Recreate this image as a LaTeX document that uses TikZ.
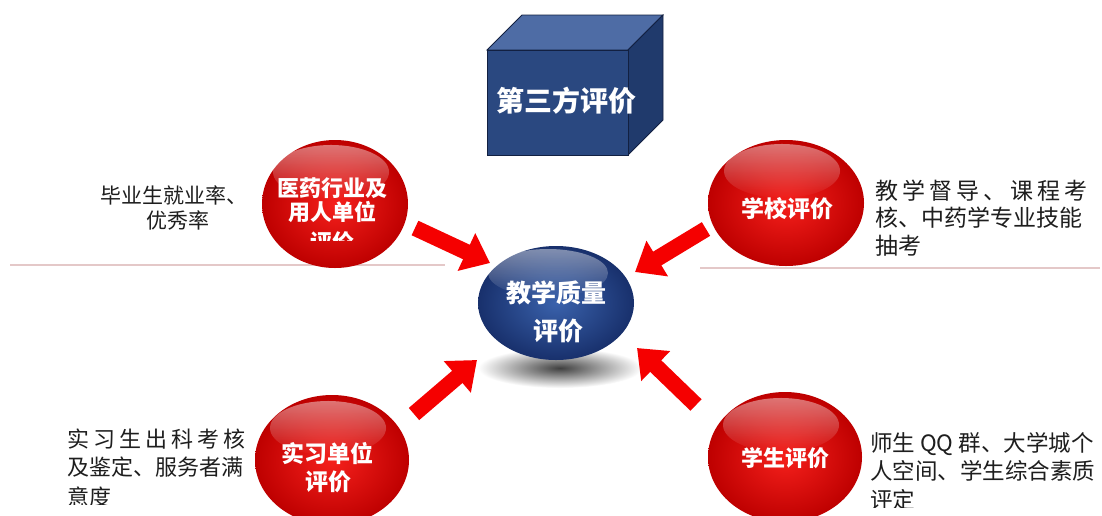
\documentclass[tikz,border=0pt]{standalone}
\usepackage{fontspec}
\setmainfont{Noto Sans CJK SC}
\usetikzlibrary{arrows.meta,shapes.geometric,fadings,calc}
\definecolor{ballred}{RGB}{245,32,28}
\definecolor{balldark}{RGB}{190,0,0}
\definecolor{ballblue}{RGB}{58,98,172}
\definecolor{blueedge}{RGB}{24,48,108}
\definecolor{arrowred}{RGB}{245,0,0}
\definecolor{rulecol}{RGB}{228,200,200}
\definecolor{cubefront}{RGB}{42,72,128}
\definecolor{cubetop}{RGB}{78,108,165}
\definecolor{cubeside}{RGB}{32,58,108}
\definecolor{cubeedge}{RGB}{18,32,65}
\definecolor{sidetxt}{RGB}{30,30,30}
\begin{document}
\begin{tikzpicture}[x=1pt,y=-1pt,
  redball/.style={ellipse, inner sep=0pt, minimum width=150pt, minimum height=130pt,
    shading=radial, inner color=ballred, outer color=balldark},
  blueball/.style={ellipse, inner sep=0pt, minimum width=156pt, minimum height=114pt,
    shading=radial, inner color=ballblue, outer color=blueedge},
  gloss/.style={white, fill opacity=0.45, path fading=south},
  bigarrow/.style={draw=arrowred, line width=16pt, -{Triangle[width=40pt,length=26pt]}},
  balltxt/.style={text=white, font=\bfseries\fontsize{22}{26}\selectfont, inner sep=0pt, anchor=base},
  sidetext/.style={text=sidetxt, font=\fontsize{22}{27}\selectfont, inner sep=0pt, anchor=base west},
  rule/.style={draw=rulecol, line width=2pt}
]
\useasboundingbox (0,0) rectangle (1102,515);
\clip (0,0) rectangle (1102,515);
\fill[white] (0,0) rectangle (1102,515);

% horizontal rules
\coordinate (rl1) at (10,265);
\coordinate (rl2) at (445,265);
\coordinate (rr1) at (700,268);
\coordinate (rr2) at (1100,268);
\draw[rule] (rl1) -- (rl2);
\draw[rule] (rr1) -- (rr2);

% cube
\filldraw[fill=cubetop, draw=cubeedge, line width=0.8pt] (487,50) -- (522,15) -- (663,15) -- (628,50) -- cycle;
\filldraw[fill=cubeside, draw=cubeedge, line width=0.8pt] (628,50) -- (663,15) -- (663,120) -- (628,155) -- cycle;
\filldraw[fill=cubefront, draw=cubeedge, line width=0.8pt] (487,50) rectangle (628,155);
\node[text=white, font=\bfseries\fontsize{28}{30}\selectfont, inner sep=0pt, anchor=base] (cubelabel) at (566,111) {第三方评价};

% shadow under centre ball
\shade[inner color=black!75, outer color=white] (560,368) ellipse [x radius=82, y radius=20];

% centre ball
\node[blueball] (center) at (556,303) {};
\fill[gloss] ($(center.center)+(-8,-30)$) ellipse [x radius=60, y radius=24];
\node[balltxt, font=\bfseries\fontsize{25}{28}\selectfont] (c1) at (556,302) {教学质量};
\node[balltxt, font=\bfseries\fontsize{25}{28}\selectfont] (c2) at (558,340) {评价};

% red balls
\node[redball, minimum width=146pt, minimum height=128pt] (tl) at (335,204) {};
\node[redball, minimum width=156pt, minimum height=126pt] (tr) at (786,203) {};
\node[redball, minimum width=154pt, minimum height=130pt] (bl) at (332,460) {};
\node[redball, minimum width=154pt, minimum height=130pt] (br) at (785,457) {};
\foreach \b in {tl,tr,bl,br}{
  \fill[gloss] ($(\b.center)+(-4,-32)$) ellipse [x radius=58, y radius=27];
}

% ball labels
\node[balltxt] (tl1) at (332,196) {医药行业及};
\node[balltxt] (tl2) at (332,220) {用人单位};
\begin{scope}
  \clip (250,0) rectangle (420,240);
  \node[balltxt] (tl3) at (332,250) {评价};
\end{scope}
\node[balltxt, font=\bfseries\fontsize{23}{26}\selectfont] (trl) at (787,217) {学校评价};
\node[balltxt, font=\bfseries\fontsize{23}{26}\selectfont] (bl1) at (327,462) {实习单位};
\node[balltxt, font=\bfseries\fontsize{23}{26}\selectfont] (bl2) at (328,490) {评价};
\node[balltxt] (brl) at (785,466) {学生评价};

% arrows
\coordinate (a1s) at (415,228);
\coordinate (a1e) at (490,263);
\coordinate (a2s) at (706,229);
\coordinate (a2e) at (635,272);
\coordinate (a3s) at (414,414);
\coordinate (a3e) at (477,360);
\coordinate (a4s) at (696,405);
\coordinate (a4e) at (637,348);
\draw[bigarrow] (a1s) -- (a1e);
\draw[bigarrow] (a2s) -- (a2e);
\draw[bigarrow] (a3s) -- (a3e);
\draw[bigarrow] (a4s) -- (a4e);

% side texts
\node[sidetext, font=\fontsize{21}{25}\selectfont, anchor=base] (lt1) at (174,203) {毕业生就业率、};
\node[sidetext, font=\fontsize{21}{25}\selectfont, anchor=base] (lt2) at (178,228) {优秀率};

\node[sidetext, font=\fontsize{23}{27}\selectfont] (rt1) at (875,199) {\makebox[212pt][s]{教\hfill 学\hfill 督\hfill 导\hfill 、\hfill 课\hfill 程\hfill 考}};
\node[sidetext, font=\fontsize{23}{27}\selectfont] (rt2) at (875,226) {核、中药学专业技能};
\node[sidetext, font=\fontsize{23}{27}\selectfont] (rt3) at (875,254) {抽考};

\node[sidetext] (lb1) at (67,447) {\makebox[178pt][s]{实\hfill 习\hfill 生\hfill 出\hfill 科\hfill 考\hfill 核}};
\node[sidetext] (lb2) at (67,475) {及鉴定、服务者满};
\begin{scope}
  \clip (0,0) rectangle (260,504);
  \node[sidetext] (lb3) at (67,505) {意度};
\end{scope}

\node[sidetext, font=\fontsize{22.5}{27}\selectfont] (rb1) at (870,451) {师生 QQ 群、大学城个};
\node[sidetext, font=\fontsize{22.5}{27}\selectfont] (rb2) at (870,479) {人空间、学生综合素质};
\begin{scope}
  \clip (860,0) rectangle (1102,507);
  \node[sidetext, font=\fontsize{22.5}{27}\selectfont] (rb3) at (870,508) {评定};
\end{scope}
\end{tikzpicture}
\end{document}
